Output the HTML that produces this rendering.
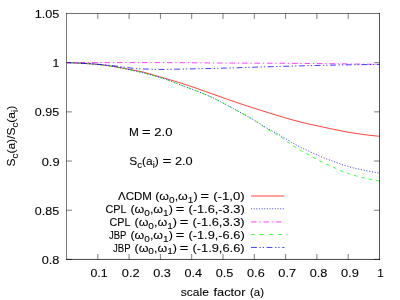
<!DOCTYPE html>
<html><head><meta charset="utf-8"><title>plot</title>
<style>
html,body{margin:0;padding:0;background:#fff;}
body{width:400px;height:300px;overflow:hidden;}
svg{display:block;}
text{font-family:"Liberation Sans",sans-serif;font-size:11.4px;fill:#000;}
</style></head>
<body>
<svg width="400" height="300" viewBox="0 0 400 300">
<rect width="400" height="300" fill="#fff"/>
<g fill="none" stroke-linecap="butt" stroke-linejoin="round">
<path d="M66.5,62.68h5.4 M379.5,62.68h-5.4 M66.5,111.86h5.4 M379.5,111.86h-5.4 M66.5,161.04h5.4 M379.5,161.04h-5.4 M66.5,210.22h5.4 M379.5,210.22h-5.4 M66.5,259.40h5.4 M379.5,259.40h-5.4 M97.80,259.4v-5.4 M97.80,13.5v5.4 M129.10,259.4v-5.4 M129.10,13.5v5.4 M160.40,259.4v-5.4 M160.40,13.5v5.4 M191.70,259.4v-5.4 M191.70,13.5v5.4 M223.00,259.4v-5.4 M223.00,13.5v5.4 M254.30,259.4v-5.4 M254.30,13.5v5.4 M285.60,259.4v-5.4 M285.60,13.5v5.4 M316.90,259.4v-5.4 M316.90,13.5v5.4 M348.20,259.4v-5.4 M348.20,13.5v5.4 " stroke="#000" stroke-width="0.52"/>
<path d="M67.0,62.60 L69.0,62.68 L71.0,62.76 L73.0,62.85 L75.0,62.95 L77.0,63.05 L79.0,63.16 L81.0,63.27 L83.0,63.38 L85.0,63.50 L87.0,63.62 L89.0,63.75 L91.0,63.89 L93.0,64.03 L95.0,64.19 L97.0,64.36 L99.0,64.54 L101.0,64.75 L103.0,64.98 L105.0,65.22 L107.0,65.49 L109.0,65.76 L111.0,66.05 L113.0,66.36 L115.0,66.69 L117.0,67.04 L119.0,67.40 L121.0,67.78 L123.0,68.16 L125.0,68.55 L127.0,68.93 L129.0,69.31 L131.0,69.68 L133.0,70.04 L135.0,70.41 L137.0,70.78 L139.0,71.19 L141.0,71.63 L143.0,72.10 L145.0,72.61 L147.0,73.14 L149.0,73.70 L151.0,74.27 L153.0,74.85 L155.0,75.44 L157.0,76.03 L159.0,76.61 L161.0,77.19 L163.0,77.76 L165.0,78.34 L167.0,78.92 L169.0,79.50 L171.0,80.09 L173.0,80.69 L175.0,81.29 L177.0,81.89 L179.0,82.51 L181.0,83.13 L183.0,83.76 L185.0,84.40 L187.0,85.05 L189.0,85.72 L191.0,86.40 L193.0,87.09 L195.0,87.78 L197.0,88.49 L199.0,89.20 L201.0,89.91 L203.0,90.62 L205.0,91.33 L207.0,92.04 L209.0,92.75 L211.0,93.45 L213.0,94.16 L215.0,94.86 L217.0,95.57 L219.0,96.28 L221.0,97.00 L223.0,97.71 L225.0,98.42 L227.0,99.12 L229.0,99.83 L231.0,100.52 L233.0,101.22 L235.0,101.90 L237.0,102.58 L239.0,103.25 L241.0,103.92 L243.0,104.59 L245.0,105.25 L247.0,105.91 L249.0,106.56 L251.0,107.21 L253.0,107.86 L255.0,108.50 L257.0,109.14 L259.0,109.78 L261.0,110.41 L263.0,111.04 L265.0,111.67 L267.0,112.30 L269.0,112.92 L271.0,113.54 L273.0,114.15 L275.0,114.76 L277.0,115.36 L279.0,115.95 L281.0,116.55 L283.0,117.14 L285.0,117.73 L287.0,118.32 L289.0,118.90 L291.0,119.47 L293.0,120.04 L295.0,120.59 L297.0,121.13 L299.0,121.65 L301.0,122.15 L303.0,122.64 L305.0,123.11 L307.0,123.58 L309.0,124.04 L311.0,124.48 L313.0,124.92 L315.0,125.36 L317.0,125.79 L319.0,126.22 L321.0,126.65 L323.0,127.07 L325.0,127.50 L327.0,127.93 L329.0,128.35 L331.0,128.77 L333.0,129.18 L335.0,129.60 L337.0,130.00 L339.0,130.40 L341.0,130.80 L343.0,131.20 L345.0,131.60 L347.0,131.98 L349.0,132.34 L351.0,132.66 L353.0,132.97 L355.0,133.27 L357.0,133.57 L359.0,133.87 L361.0,134.15 L363.0,134.43 L365.0,134.69 L367.0,134.95 L369.0,135.19 L371.0,135.42 L373.0,135.64 L375.0,135.85 L377.0,136.04 L379.0,136.21 L379.5,136.25" stroke="#ff0000" stroke-width="0.74"/>
<path d="M67.0,62.60 L69.0,62.68 L71.0,62.76 L73.0,62.85 L75.0,62.95 L77.0,63.05 L79.0,63.16 L81.0,63.27 L83.0,63.38 L85.0,63.50 L87.0,63.62 L89.0,63.75 L91.0,63.89 L93.0,64.03 L95.0,64.19 L97.0,64.36 L99.0,64.54 L101.0,64.75 L103.0,64.97 L105.0,65.22 L107.0,65.48 L109.0,65.76 L111.0,66.05 L113.0,66.37 L115.0,66.71 L117.0,67.08 L119.0,67.47 L121.0,67.87 L123.0,68.28 L125.0,68.71 L127.0,69.14 L129.0,69.58 L131.0,70.02 L133.0,70.47 L135.0,70.92 L137.0,71.39 L139.0,71.86 L141.0,72.34 L143.0,72.84 L145.0,73.34 L147.0,73.85 L149.0,74.38 L151.0,74.92 L153.0,75.47 L155.0,76.03 L157.0,76.61 L159.0,77.20 L161.0,77.81 L163.0,78.44 L165.0,79.11 L167.0,79.80 L169.0,80.52 L171.0,81.25 L173.0,82.00 L175.0,82.76 L177.0,83.52 L179.0,84.30 L181.0,85.07 L183.0,85.84 L185.0,86.60 L187.0,87.36 L189.0,88.11 L191.0,88.86 L193.0,89.61 L195.0,90.37 L197.0,91.14 L199.0,91.91 L201.0,92.70 L203.0,93.51 L205.0,94.33 L207.0,95.18 L209.0,96.05 L211.0,96.96 L213.0,97.90 L215.0,98.87 L217.0,99.88 L219.0,100.92 L221.0,101.97 L223.0,103.04 L225.0,104.11 L227.0,105.19 L229.0,106.26 L231.0,107.33 L233.0,108.41 L235.0,109.48 L237.0,110.57 L239.0,111.65 L241.0,112.75 L243.0,113.86 L245.0,114.97 L247.0,116.09 L249.0,117.23 L251.0,118.37 L253.0,119.53 L255.0,120.70 L257.0,121.91 L259.0,123.17 L261.0,124.46 L263.0,125.75 L265.0,127.03 L267.0,128.26 L269.0,129.44 L271.0,130.53 L273.0,131.51 L275.0,132.45 L277.0,133.44 L279.0,134.56 L281.0,135.88 L283.0,137.20 L285.0,138.39 L287.0,139.54 L289.0,140.70 L291.0,141.91 L293.0,143.13 L295.0,144.30 L297.0,145.41 L299.0,146.48 L301.0,147.50 L303.0,148.45 L305.0,149.35 L307.0,150.24 L309.0,151.17 L311.0,152.13 L313.0,153.09 L315.0,154.03 L317.0,154.94 L319.0,155.83 L321.0,156.66 L323.0,157.47 L325.0,158.26 L327.0,159.02 L329.0,159.78 L331.0,160.52 L333.0,161.26 L335.0,162.00 L337.0,162.75 L339.0,163.51 L341.0,164.26 L343.0,164.96 L345.0,165.60 L347.0,166.19 L349.0,166.75 L351.0,167.28 L353.0,167.79 L355.0,168.27 L357.0,168.74 L359.0,169.18 L361.0,169.61 L363.0,170.03 L365.0,170.44 L367.0,170.84 L369.0,171.23 L371.0,171.60 L373.0,171.96 L375.0,172.30 L377.0,172.62 L379.0,172.93 L379.5,173.00" stroke="#0000ff" stroke-width="0.74" stroke-dasharray="1.1 1.7"/>
<path d="M67.0,62.60 L69.0,62.60 L71.0,62.60 L73.0,62.60 L75.0,62.60 L77.0,62.60 L79.0,62.60 L81.0,62.60 L83.0,62.60 L85.0,62.60 L87.0,62.60 L89.0,62.60 L91.0,62.60 L93.0,62.60 L95.0,62.60 L97.0,62.60 L99.0,62.60 L101.0,62.60 L103.0,62.60 L105.0,62.60 L107.0,62.60 L109.0,62.60 L111.0,62.60 L113.0,62.60 L115.0,62.60 L117.0,62.60 L119.0,62.60 L121.0,62.60 L123.0,62.60 L125.0,62.60 L127.0,62.60 L129.0,62.60 L131.0,62.60 L133.0,62.60 L135.0,62.60 L137.0,62.60 L139.0,62.60 L141.0,62.60 L143.0,62.60 L145.0,62.60 L147.0,62.60 L149.0,62.60 L151.0,62.60 L153.0,62.60 L155.0,62.60 L157.0,62.60 L159.0,62.60 L161.0,62.60 L163.0,62.60 L165.0,62.61 L167.0,62.62 L169.0,62.63 L171.0,62.64 L173.0,62.66 L175.0,62.67 L177.0,62.69 L179.0,62.71 L181.0,62.72 L183.0,62.74 L185.0,62.75 L187.0,62.76 L189.0,62.78 L191.0,62.79 L193.0,62.80 L195.0,62.82 L197.0,62.83 L199.0,62.85 L201.0,62.86 L203.0,62.88 L205.0,62.89 L207.0,62.91 L209.0,62.93 L211.0,62.94 L213.0,62.96 L215.0,62.97 L217.0,62.99 L219.0,63.00 L221.0,63.01 L223.0,63.03 L225.0,63.04 L227.0,63.05 L229.0,63.07 L231.0,63.08 L233.0,63.09 L235.0,63.10 L237.0,63.11 L239.0,63.12 L241.0,63.13 L243.0,63.14 L245.0,63.14 L247.0,63.15 L249.0,63.16 L251.0,63.17 L253.0,63.17 L255.0,63.18 L257.0,63.19 L259.0,63.19 L261.0,63.20 L263.0,63.21 L265.0,63.21 L267.0,63.22 L269.0,63.23 L271.0,63.24 L273.0,63.24 L275.0,63.25 L277.0,63.26 L279.0,63.27 L281.0,63.28 L283.0,63.29 L285.0,63.30 L287.0,63.31 L289.0,63.32 L291.0,63.34 L293.0,63.35 L295.0,63.37 L297.0,63.38 L299.0,63.40 L301.0,63.42 L303.0,63.44 L305.0,63.45 L307.0,63.47 L309.0,63.49 L311.0,63.51 L313.0,63.53 L315.0,63.55 L317.0,63.57 L319.0,63.59 L321.0,63.61 L323.0,63.63 L325.0,63.65 L327.0,63.67 L329.0,63.69 L331.0,63.71 L333.0,63.73 L335.0,63.75 L337.0,63.78 L339.0,63.80 L341.0,63.82 L343.0,63.85 L345.0,63.87 L347.0,63.90 L349.0,63.92 L351.0,63.95 L353.0,63.97 L355.0,64.00 L357.0,64.03 L359.0,64.06 L361.0,64.09 L363.0,64.12 L365.0,64.15 L367.0,64.18 L369.0,64.21 L371.0,64.25 L373.0,64.28 L375.0,64.32 L377.0,64.35 L379.0,64.39 L379.5,64.40" stroke="#ff00ff" stroke-width="0.74" stroke-dasharray="5.5 2.8 1.4 2.8"/>
<path d="M67.0,62.60 L69.0,62.68 L71.0,62.76 L73.0,62.85 L75.0,62.95 L77.0,63.05 L79.0,63.16 L81.0,63.27 L83.0,63.38 L85.0,63.50 L87.0,63.62 L89.0,63.75 L91.0,63.89 L93.0,64.03 L95.0,64.19 L97.0,64.36 L99.0,64.54 L101.0,64.75 L103.0,64.97 L105.0,65.22 L107.0,65.48 L109.0,65.76 L111.0,66.05 L113.0,66.37 L115.0,66.71 L117.0,67.08 L119.0,67.47 L121.0,67.87 L123.0,68.28 L125.0,68.71 L127.0,69.14 L129.0,69.58 L131.0,70.02 L133.0,70.47 L135.0,70.92 L137.0,71.39 L139.0,71.86 L141.0,72.34 L143.0,72.84 L145.0,73.34 L147.0,73.85 L149.0,74.38 L151.0,74.92 L153.0,75.47 L155.0,76.03 L157.0,76.61 L159.0,77.20 L161.0,77.81 L163.0,78.44 L165.0,79.11 L167.0,79.80 L169.0,80.52 L171.0,81.25 L173.0,82.00 L175.0,82.76 L177.0,83.52 L179.0,84.30 L181.0,85.07 L183.0,85.84 L185.0,86.60 L187.0,87.36 L189.0,88.11 L191.0,88.86 L193.0,89.61 L195.0,90.37 L197.0,91.14 L199.0,91.91 L201.0,92.70 L203.0,93.51 L205.0,94.33 L207.0,95.18 L209.0,96.05 L211.0,96.96 L213.0,97.89 L215.0,98.87 L217.0,99.87 L219.0,100.90 L221.0,101.95 L223.0,103.02 L225.0,104.10 L227.0,105.18 L229.0,106.26 L231.0,107.34 L233.0,108.42 L235.0,109.52 L237.0,110.62 L239.0,111.72 L241.0,112.84 L243.0,113.97 L245.0,115.11 L247.0,116.26 L249.0,117.42 L251.0,118.60 L253.0,119.79 L255.0,121.00 L257.0,122.24 L259.0,123.53 L261.0,124.85 L263.0,126.18 L265.0,127.51 L267.0,128.81 L269.0,130.08 L271.0,131.30 L273.0,132.45 L275.0,133.56 L277.0,134.69 L279.0,135.88 L281.0,137.16 L283.0,138.56 L285.0,140.02 L287.0,141.48 L289.0,142.90 L291.0,144.26 L293.0,145.60 L295.0,146.90 L297.0,148.17 L299.0,149.40 L301.0,150.60 L303.0,151.74 L305.0,152.85 L307.0,153.95 L309.0,155.06 L311.0,156.18 L313.0,157.29 L315.0,158.37 L317.0,159.42 L319.0,160.45 L321.0,161.46 L323.0,162.45 L325.0,163.42 L327.0,164.38 L329.0,165.31 L331.0,166.23 L333.0,167.14 L335.0,168.06 L337.0,169.01 L339.0,169.95 L341.0,170.84 L343.0,171.67 L345.0,172.46 L347.0,173.20 L349.0,173.88 L351.0,174.50 L353.0,175.08 L355.0,175.63 L357.0,176.18 L359.0,176.72 L361.0,177.24 L363.0,177.73 L365.0,178.21 L367.0,178.66 L369.0,179.10 L371.0,179.51 L373.0,179.89 L375.0,180.26 L377.0,180.60 L379.0,180.92 L379.5,181.00" stroke="#00ff00" stroke-width="0.74" stroke-dasharray="3.6 3.95" stroke-dashoffset="4.4"/>
<path d="M67.0,62.60 L69.0,62.67 L71.0,62.74 L73.0,62.82 L75.0,62.91 L77.0,63.00 L79.0,63.10 L81.0,63.19 L83.0,63.30 L85.0,63.40 L87.0,63.51 L89.0,63.62 L91.0,63.75 L93.0,63.88 L95.0,64.02 L97.0,64.16 L99.0,64.32 L101.0,64.49 L103.0,64.68 L105.0,64.88 L107.0,65.08 L109.0,65.29 L111.0,65.51 L113.0,65.73 L115.0,65.96 L117.0,66.20 L119.0,66.45 L121.0,66.70 L123.0,66.95 L125.0,67.20 L127.0,67.47 L129.0,67.77 L131.0,68.06 L133.0,68.31 L135.0,68.50 L137.0,68.63 L139.0,68.75 L141.0,68.85 L143.0,68.94 L145.0,69.01 L147.0,69.08 L149.0,69.15 L151.0,69.22 L153.0,69.28 L155.0,69.33 L157.0,69.37 L159.0,69.40 L161.0,69.40 L163.0,69.39 L165.0,69.37 L167.0,69.35 L169.0,69.32 L171.0,69.28 L173.0,69.25 L175.0,69.20 L177.0,69.16 L179.0,69.12 L181.0,69.08 L183.0,69.04 L185.0,69.00 L187.0,68.96 L189.0,68.93 L191.0,68.89 L193.0,68.85 L195.0,68.82 L197.0,68.78 L199.0,68.74 L201.0,68.70 L203.0,68.66 L205.0,68.61 L207.0,68.57 L209.0,68.52 L211.0,68.48 L213.0,68.43 L215.0,68.38 L217.0,68.32 L219.0,68.27 L221.0,68.21 L223.0,68.16 L225.0,68.10 L227.0,68.04 L229.0,67.98 L231.0,67.92 L233.0,67.86 L235.0,67.80 L237.0,67.74 L239.0,67.68 L241.0,67.61 L243.0,67.55 L245.0,67.48 L247.0,67.42 L249.0,67.35 L251.0,67.28 L253.0,67.22 L255.0,67.15 L257.0,67.09 L259.0,67.03 L261.0,66.97 L263.0,66.91 L265.0,66.85 L267.0,66.80 L269.0,66.74 L271.0,66.69 L273.0,66.63 L275.0,66.58 L277.0,66.52 L279.0,66.47 L281.0,66.41 L283.0,66.36 L285.0,66.30 L287.0,66.24 L289.0,66.19 L291.0,66.13 L293.0,66.07 L295.0,66.01 L297.0,65.95 L299.0,65.89 L301.0,65.83 L303.0,65.78 L305.0,65.72 L307.0,65.67 L309.0,65.62 L311.0,65.58 L313.0,65.53 L315.0,65.49 L317.0,65.44 L319.0,65.40 L321.0,65.36 L323.0,65.32 L325.0,65.28 L327.0,65.24 L329.0,65.20 L331.0,65.16 L333.0,65.13 L335.0,65.09 L337.0,65.05 L339.0,65.02 L341.0,64.98 L343.0,64.95 L345.0,64.91 L347.0,64.88 L349.0,64.85 L351.0,64.81 L353.0,64.78 L355.0,64.75 L357.0,64.72 L359.0,64.69 L361.0,64.66 L363.0,64.63 L365.0,64.60 L367.0,64.57 L369.0,64.54 L371.0,64.51 L373.0,64.48 L375.0,64.46 L377.0,64.43 L379.0,64.41 L379.5,64.40" stroke="#0000ff" stroke-width="0.74" stroke-dasharray="5.9 2.6 1.3 1.9 1.3 2.6" stroke-dashoffset="1.7"/>
<path d="M251,196H284.4" stroke="#ff0000" stroke-width="0.74"/>
<path d="M251,208.8H284.4" stroke="#0000ff" stroke-width="0.74" stroke-dasharray="1 1.65"/>
<path d="M251,221.95H284.4" stroke="#ff00ff" stroke-width="0.74" stroke-dasharray="5.5 2.8 1.4 2.8"/>
<path d="M251,234.5H284.4" stroke="#00ff00" stroke-width="0.74" stroke-dasharray="3.7 5.35"/>
<path d="M251,247.45H284.4" stroke="#0000ff" stroke-width="0.74" stroke-dasharray="5.9 2.6 1.3 1.9 1.3 2.6"/>
<path d="M66.5,13.0V259.9" stroke="#000" stroke-width="0.53"/>
<path d="M66.0,13.5H380.0" stroke="#000" stroke-width="0.56"/>
<path d="M379.5,13.0V259.9" stroke="#000" stroke-width="0.68"/>
<path d="M66.0,259.45H380.0" stroke="#000" stroke-width="0.74"/>
</g>
<g style="filter:grayscale(1)" stroke="#000" stroke-width="0.1" stroke-linejoin="round">
<text transform="translate(34.63,18.00) scale(1.1090,1)">1.05</text>
<text transform="translate(52.56,67.18) scale(1.0769,1)">1</text>
<text transform="translate(34.85,116.36) scale(1.0988,1)">0.95</text>
<text transform="translate(41.69,165.54) scale(1.1288,1)">0.9</text>
<text transform="translate(34.85,214.72) scale(1.0988,1)">0.85</text>
<text transform="translate(41.69,263.90) scale(1.1193,1)">0.8</text>
<text transform="translate(90.46,276.60) scale(1.0780,1)">0.1</text>
<text transform="translate(121.84,276.60) scale(1.1254,1)">0.2</text>
<text transform="translate(153.14,276.60) scale(1.1160,1)">0.3</text>
<text transform="translate(184.45,276.60) scale(1.1067,1)">0.4</text>
<text transform="translate(215.74,276.60) scale(1.1160,1)">0.5</text>
<text transform="translate(247.04,276.60) scale(1.1160,1)">0.6</text>
<text transform="translate(278.34,276.60) scale(1.1254,1)">0.7</text>
<text transform="translate(309.64,276.60) scale(1.1160,1)">0.8</text>
<text transform="translate(340.94,276.60) scale(1.1254,1)">0.9</text>
<text transform="translate(377.35,276.60) scale(1.0256,1)">1</text>
<text transform="translate(118.02,200.40) scale(1.0077,1)">ΛCDM</text>
<text transform="translate(155.18,200.40) scale(1.0943,1)">(ω<tspan font-size="9.2" dy="2.8">0</tspan><tspan dy="-2.8">,ω</tspan><tspan font-size="9.2" dy="2.8">1</tspan><tspan dy="-2.8">)</tspan></text>
<text transform="translate(200.56,200.40) scale(1.2800,1)">=</text>
<text transform="translate(213.13,200.40) scale(1.1573,1)">(-1,0)</text>
<text transform="translate(105.41,213.00) scale(0.9467,1)">CPL</text>
<text transform="translate(130.43,213.00) scale(1.0943,1)">(ω<tspan font-size="9.2" dy="2.8">0</tspan><tspan dy="-2.8">,ω</tspan><tspan font-size="9.2" dy="2.8">1</tspan><tspan dy="-2.8">)</tspan></text>
<text transform="translate(175.81,213.00) scale(1.2800,1)">=</text>
<text transform="translate(188.41,213.00) scale(1.1247,1)">(-1.6,-3.3)</text>
<text transform="translate(109.41,225.90) scale(0.9467,1)">CPL</text>
<text transform="translate(134.48,225.90) scale(1.0943,1)">(ω<tspan font-size="9.2" dy="2.8">0</tspan><tspan dy="-2.8">,ω</tspan><tspan font-size="9.2" dy="2.8">1</tspan><tspan dy="-2.8">)</tspan></text>
<text transform="translate(179.86,225.90) scale(1.2800,1)">=</text>
<text transform="translate(192.45,225.90) scale(1.1285,1)">(-1.6,3.3)</text>
<text transform="translate(108.99,238.90) scale(0.8350,1)">JBP</text>
<text transform="translate(130.43,238.90) scale(1.0943,1)">(ω<tspan font-size="9.2" dy="2.8">0</tspan><tspan dy="-2.8">,ω</tspan><tspan font-size="9.2" dy="2.8">1</tspan><tspan dy="-2.8">)</tspan></text>
<text transform="translate(175.81,238.90) scale(1.2800,1)">=</text>
<text transform="translate(188.41,238.90) scale(1.1247,1)">(-1.9,-6.6)</text>
<text transform="translate(112.99,251.60) scale(0.8400,1)">JBP</text>
<text transform="translate(134.48,251.60) scale(1.0943,1)">(ω<tspan font-size="9.2" dy="2.8">0</tspan><tspan dy="-2.8">,ω</tspan><tspan font-size="9.2" dy="2.8">1</tspan><tspan dy="-2.8">)</tspan></text>
<text transform="translate(179.86,251.60) scale(1.2800,1)">=</text>
<text transform="translate(192.45,251.60) scale(1.1285,1)">(-1.9,6.6)</text>
<text transform="translate(129.09,135.90) scale(1.0361,1)">M</text>
<text transform="translate(142.11,135.90) scale(1.2889,1)">=</text>
<text transform="translate(154.28,135.90) scale(1.1458,1)">2.0</text>
<text transform="translate(129.22,165.30) scale(1.0500,1)">S<tspan font-size="9.2" dy="2.8">c</tspan><tspan dy="-2.8">(a</tspan><tspan font-size="9.2" dy="2.8">i</tspan><tspan dy="-2.8">)</tspan></text>
<text transform="translate(162.43,165.30) scale(1.3333,1)">=</text>
<text transform="translate(175.00,165.30) scale(1.1186,1)">2.0</text>
<text transform="translate(180.85,295.75) scale(1.0544,1)">scale</text>
<text transform="translate(213.51,295.75) scale(1.1200,1)">factor</text>
<text transform="translate(249.99,295.75) scale(1.0080,1)">(a)</text>
<text transform="translate(14.7,166.53) rotate(-90) scale(1.0578,1)">S<tspan font-size="9.2" dy="2.8">c</tspan><tspan dy="-2.8">(a)/S</tspan><tspan font-size="9.2" dy="2.8">c</tspan><tspan dy="-2.8">(a</tspan><tspan font-size="9.2" dy="2.8">i</tspan><tspan dy="-2.8">)</tspan></text>
</g>
</svg>
</body></html>
